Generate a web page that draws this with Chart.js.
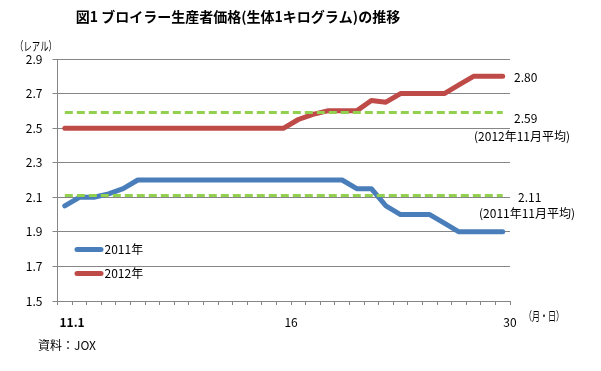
<!DOCTYPE html>
<html><head><meta charset="utf-8">
<script src="https://cdn.jsdelivr.net/npm/chart.js@4.4.0/dist/chart.umd.min.js"></script>
<style>html,body{margin:0;padding:0;background:#fff}canvas{display:block}</style>
</head><body>
<canvas id="c" width="601" height="371"></canvas>
<script>
const title = '図1 ブロイラー生産者価格(生体1キログラム)の推移';
const yUnit = '（レアル）';
const xUnit = '（月・日）';
const source = '資料：JOX';
const categories = ['1','2','3','4','5','6','7','8','9','10','11','12','13','14','15','16','17','18','19','20','21','22','23','24','25','26','27','28','29','30','31'];
const series2011 = [2.05,2.10,2.10,2.12,2.15,2.20,2.20,2.20,2.20,2.20,2.20,2.20,2.20,2.20,2.20,2.20,2.20,2.20,2.20,2.20,2.15,2.15,2.05,2.00,2.00,2.00,1.95,1.90,1.90,1.90,1.90];
const series2012 = [2.50,2.50,2.50,2.50,2.50,2.50,2.50,2.50,2.50,2.50,2.50,2.50,2.50,2.50,2.50,2.50,2.55,2.58,2.60,2.60,2.60,2.66,2.65,2.70,2.70,2.70,2.70,2.75,2.80,2.80,2.80];
const avg2011 = 2.11;
const avg2012 = 2.59;
const seriesNames = ['2011年','2012年'];
const avgNotes = ['(2011年11月平均)','(2012年11月平均)'];
const yTicks = [1.5,1.7,1.9,2.1,2.3,2.5,2.7,2.9];
const xTickLabels = ['11.1','16','30'];
const xTickAt = [1.5,16.5,31.5];

const FONT = '"Noto Sans CJK JP","Noto Sans",sans-serif';
Chart.defaults.font.family = FONT;
Chart.defaults.color = '#000';

const BLUE = '#4A7EBB', RED = '#BE4B48', GREEN = '#92D050', GRID = '#868686';

const toXY = arr => arr.map((v,i)=>({x:i+1,y:v}));

const textPlugin = {
  id:'texts',
  afterDraw(chart){
    const {ctx, scales:{y}} = chart;
    ctx.save();
    ctx.fillStyle = '#000';
    ctx.textBaseline = 'middle';
    ctx.font = 'bold 14px ' + FONT;
    ctx.textAlign = 'center';
    ctx.fillText(title, 238, 17);
    ctx.font = '12px ' + FONT;
    ctx.fillText(yUnit, 36, 46, 42);
    ctx.textAlign = 'left';
    const last2012 = series2012[series2012.length-1];
    ctx.fillText(last2012.toFixed(2), 514, y.getPixelForValue(last2012)+1);
    ctx.fillText(avg2012.toFixed(2), 514, y.getPixelForValue(avg2012)+6);
    ctx.fillText(avgNotes[1], 474, y.getPixelForValue(avg2012)+24);
    ctx.fillText(avg2011.toFixed(2), 518, y.getPixelForValue(avg2011)+2);
    ctx.fillText(avgNotes[0], 479, y.getPixelForValue(avg2011)+18);
    ctx.fillText(xUnit, 524, 316, 40);
    ctx.fillText(source, 38, 345);
    // legend
    const leg = [[BLUE, seriesNames[0], 249.5],[RED, seriesNames[1], 273.5]];
    ctx.lineCap = 'round';
    ctx.lineWidth = 5;
    for (const [c,t,yy] of leg){
      ctx.strokeStyle = c;
      ctx.beginPath(); ctx.moveTo(77,yy); ctx.lineTo(101,yy); ctx.stroke();
      ctx.fillText(t, 104.5, yy);
    }
    ctx.restore();
  }
};

new Chart(document.getElementById('c'), {
  type:'line',
  data:{
    datasets:[
      {label:'avg2012', data: categories.map((c,i)=>({x:i+1,y:avg2012})), borderColor:GREEN, borderWidth:3, borderDash:[8,4], pointRadius:0, order:0},
      {label:'avg2011', data: categories.map((c,i)=>({x:i+1,y:avg2011})), borderColor:GREEN, borderWidth:3, borderDash:[8,4], pointRadius:0, order:0},
      {label:seriesNames[0], data: toXY(series2011), borderColor:BLUE, borderWidth:5, pointRadius:0, borderCapStyle:'round', borderJoinStyle:'round', order:1},
      {label:seriesNames[1], data: toXY(series2012), borderColor:RED, borderWidth:5, pointRadius:0, borderCapStyle:'round', borderJoinStyle:'round', order:1}
    ]
  },
  options:{
    responsive:false,
    animation:false,
    devicePixelRatio:1,
    layout:{padding:{left:0,top:59,right:91,bottom:0}},
    plugins:{legend:{display:false},tooltip:{enabled:false}},
    scales:{
      x:{
        type:'linear', min:0.5, max:31.5,
        afterBuildTicks(s){ s.ticks = []; for (let k=0;k<=categories.length;k++) s.ticks.push({value:k+0.5}); },
        afterFit(s){ s.height = 70; },
        grid:{drawOnChartArea:false, drawTicks:true, tickLength:4, color:GRID},
        border:{color:GRID, width:1},
        ticks:{
          autoSkip:false, maxRotation:0, padding:10,
          font:(c)=>({family:FONT,size:12,weight:(c.tick && c.tick.label===xTickLabels[0])?'bold':'normal'}),
          callback:(v)=>{ const i = xTickAt.indexOf(v); return i>=0 ? xTickLabels[i] : ''; }
        }
      },
      y:{
        min:1.5, max:2.9,
        afterBuildTicks(s){ s.ticks = yTicks.map(v=>({value:v})); },
        afterFit(s){ s.width = 57.5; },
        grid:{color:GRID, tickLength:5, drawTicks:true},
        border:{color:GRID, width:1},
        ticks:{padding:10, font:{size:12}, callback:(v)=>v.toFixed(1)}
      }
    }
  },
  plugins:[textPlugin]
});
</script>
</body></html>
